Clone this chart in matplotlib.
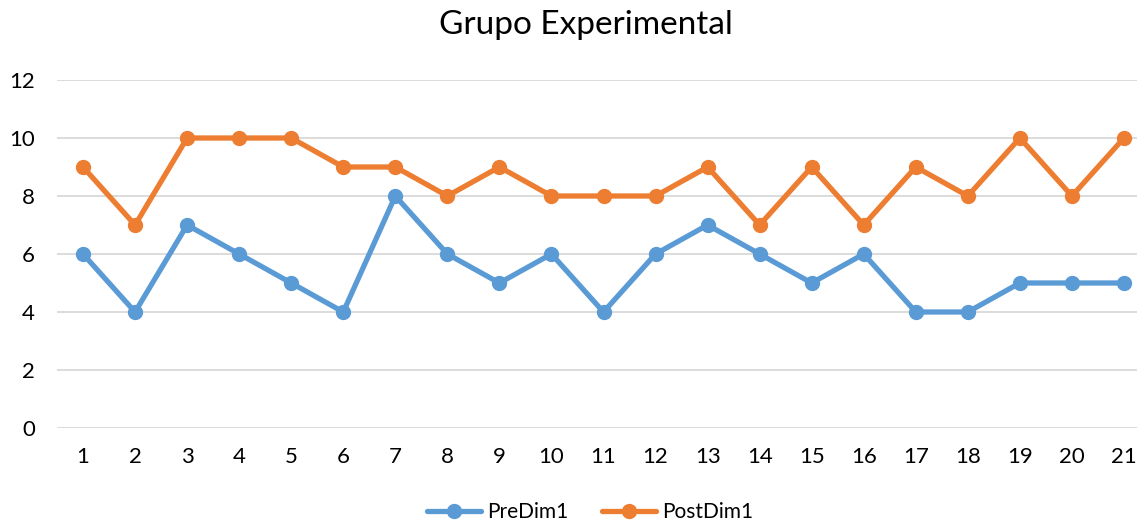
import matplotlib
matplotlib.use("Agg")
import matplotlib.pyplot as plt

categories = [str(i) for i in range(1, 22)]
pre_dim1 = [6, 4, 7, 6, 5, 4, 8, 6, 5, 6, 4, 6, 7, 6, 5, 6, 4, 4, 5, 5, 5]
post_dim1 = [9, 7, 10, 10, 10, 9, 9, 8, 9, 8, 8, 8, 9, 7, 9, 7, 9, 8, 10, 8, 10]
y_ticks = [0, 2, 4, 6, 8, 10, 12]

plt.rcParams['font.family'] = ['Lato', 'DejaVu Sans']

W, H = 1137, 522
fig = plt.figure(figsize=(W / 100, H / 100), dpi=100)
ax = fig.add_axes([57 / W, (H - 428) / H, 1093 / W, 348 / H])

x = list(range(1, len(categories) + 1))
ax.plot(x, pre_dim1, color='#5B9BD5', lw=3.8, marker='o', ms=10, label='PreDim1',
        solid_capstyle='round', solid_joinstyle='round', zorder=3)
ax.plot(x, post_dim1, color='#ED7D31', lw=3.8, marker='o', ms=10, label='PostDim1',
        solid_capstyle='round', solid_joinstyle='round', zorder=3)

ax.set_xlim(0.5, len(categories) + 0.5)
ax.set_ylim(0, 12)
ax.set_yticks(y_ticks)
ax.set_xticks(x)
ax.set_xticklabels(categories)
ax.grid(axis='y', color='#D9D9D9', lw=1.3)
ax.set_axisbelow(True)
for s in ax.spines.values():
    s.set_visible(False)
ax.tick_params(length=0, labelsize=16, colors='#000000')
ax.tick_params(axis='x', pad=14)
ax.tick_params(axis='y', pad=16)

fig.text(586 / W, 1 - 25 / H, 'Grupo Experimental', ha='center', va='center', fontsize=24)

fig.legend(loc='center', bbox_to_anchor=(590 / W, 1 - 512 / H), ncol=2, frameon=False,
           fontsize=15, handlelength=2.6, columnspacing=1.6, handletextpad=0.3)

fig.savefig('out.png', dpi=100)
